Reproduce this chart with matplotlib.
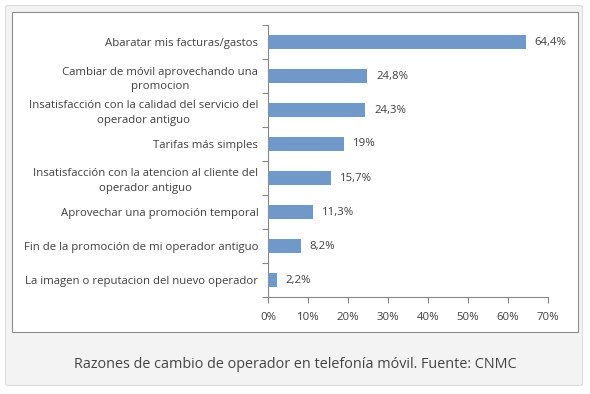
import matplotlib.pyplot as plt
from matplotlib.patches import FancyBboxPatch, Rectangle
import numpy as np

# chart data (top to bottom)
reasons = [
    "Abaratar mis facturas/gastos",
    "Cambiar de móvil aprovechando una\npromocion",
    "Insatisfacción con la calidad del servicio del\noperador antiguo",
    "Tarifas más simples",
    "Insatisfacción con la atencion al cliente del\noperador antiguo",
    "Aprovechar una promoción temporal",
    "Fin de la promoción de mi operador antiguo",
    "La imagen o reputacion del nuevo operador",
]
shares = [64.4, 24.8, 24.3, 19, 15.7, 11.3, 8.2, 2.2]
share_labels = ["64,4%", "24,8%", "24,3%", "19%", "15,7%", "11,3%", "8,2%", "2,2%"]
x_ticks = [0, 10, 20, 30, 40, 50, 60, 70]
caption = "Razones de cambio de operador en telefonía móvil. Fuente: CNMC"

W, H = 590, 394
txt = '#404040'
bar_col = '#7099ca'
axis_col = '#868686'
fs = 8.2

plt.rcParams['font.family'] = ['Open Sans', 'DejaVu Sans']

fig = plt.figure(figsize=(W / 100, H / 100), dpi=100)
fig.patch.set_facecolor('white')


def fx(px):
    return px / W


def fy(py):
    return 1 - py / H


# outer card
card = FancyBboxPatch((fx(5.5), fy(385.5)), fx(577), (385.5 - 5.5) / H,
                      boxstyle="round,pad=0,rounding_size=0.005",
                      transform=fig.transFigure, facecolor='#f3f3f3',
                      edgecolor='#dcdcdc', linewidth=0.8, zorder=0)
fig.patches.append(card)

# inner chart frame
frame = Rectangle((fx(11.5), fy(331.5)), fx(566), (331.5 - 11.5) / H,
                  transform=fig.transFigure, facecolor='white',
                  edgecolor='#8c8c8c', linewidth=0.8, zorder=1)
fig.patches.append(frame)

ax = fig.add_axes([fx(268), fy(297), fx(548) - fx(268), (297 - 25) / H])
ax.set_facecolor('none')
ax.set_zorder(5)

y = np.arange(len(reasons))
ax.barh(y, shares, height=0.42, color=bar_col, zorder=3)

for yi, v, lab in zip(y, shares, share_labels):
    ax.annotate(lab, (v, yi), xytext=(6.5, 0), textcoords='offset points',
                va='center', ha='left', fontsize=fs, color=txt)

ax.set_ylim(len(reasons) - 0.5, -0.5)
ax.set_xlim(0, 70)

ax.set_yticks(y)
ax.set_yticklabels(reasons, fontsize=fs, color=txt, linespacing=1.4)
for lbl in ax.get_yticklabels():
    lbl.set_multialignment('center')
ax.set_yticks(np.arange(-0.5, len(reasons)), minor=True)
ax.tick_params(axis='y', which='major', length=0, pad=7)
ax.tick_params(axis='y', which='minor', length=4, width=0.8, color=axis_col)

ax.set_xticks(x_ticks)
ax.set_xticklabels([f"{t}%" for t in x_ticks], fontsize=fs, color=txt)
ax.tick_params(axis='x', length=4, width=0.8, color=axis_col, pad=7)

for s in ['top', 'right']:
    ax.spines[s].set_visible(False)
for s in ['left', 'bottom']:
    ax.spines[s].set_color(axis_col)
    ax.spines[s].set_linewidth(0.8)

fig.text(0.5, fy(365), caption, ha='center', va='center',
         fontsize=10.4, color='#444444')

fig.savefig('out.png', dpi=100)
